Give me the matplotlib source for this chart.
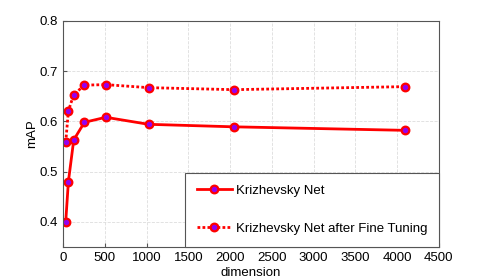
import matplotlib
matplotlib.use("Agg")
from matplotlib import pyplot as plt

# feature dimension vs mAP
dims = [32, 64, 128, 256, 512, 1024, 2048, 4096]
map_krizhevsky = [0.400, 0.480, 0.563, 0.598, 0.608, 0.594, 0.589, 0.582]
map_finetuned = [0.558, 0.621, 0.653, 0.672, 0.673, 0.667, 0.663, 0.669]

plt.rcParams["font.family"] = ["Liberation Sans", "DejaVu Sans"]
plt.rcParams["font.size"] = 9.5

fig = plt.figure(figsize=(4.85, 2.78), dpi=100)
ax = fig.add_axes([0.130, 0.112, 0.775, 0.813])

style = dict(color="red", lw=2, marker="o", markersize=5.5,
             markerfacecolor="#9400f0", markeredgecolor="red", markeredgewidth=1.6)
ax.plot(dims, map_krizhevsky, ls="-", label="Krizhevsky Net", **style)
ax.plot(dims, map_finetuned, ls=(0, (1, 0.8)), label="Krizhevsky Net after Fine Tuning", **style)

ax.set_xlim(0, 4500)
ax.set_ylim(0.35, 0.8)
ax.set_xticks(range(0, 4501, 500))
ax.set_yticks([0.4, 0.5, 0.6, 0.7, 0.8])
ax.grid(True, color="#dddddd", ls="--", lw=0.6)
ax.tick_params(direction="in", length=3, color="#555555")
for s in ax.spines.values():
    s.set_color("#555555")
    s.set_linewidth(0.8)

ax.set_xlabel("dimension", labelpad=2)
ax.set_ylabel("mAP", labelpad=1)

leg = ax.legend(loc="lower right", borderaxespad=0, fancybox=False,
                labelspacing=1.95, borderpad=0.9, handlelength=2.7,
                handletextpad=0.25, framealpha=1, edgecolor="#555555")
leg.get_frame().set_linewidth(0.8)

fig.savefig("out.png", dpi=100)
